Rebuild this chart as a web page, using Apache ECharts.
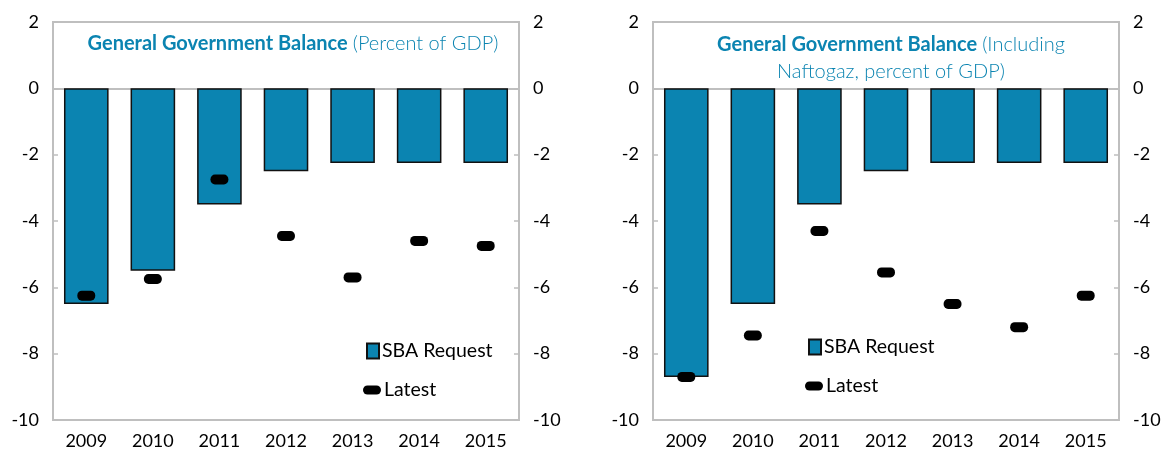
<!DOCTYPE html>
<html>
<head>
<meta charset="utf-8">
<script src="https://cdn.jsdelivr.net/npm/echarts@6/dist/echarts.min.js"></script>
<style>
  html, body { margin: 0; padding: 0; background: #fff; }
  #chart { width: 1171px; height: 459px; }
</style>
</head>
<body>
<div id="chart"></div>
<script>
const years = ["2009", "2010", "2011", "2012", "2013", "2014", "2015"];
// left panel: general government balance
const sbaLeft = [-6.5, -5.5, -3.5, -2.5, -2.25, -2.25, -2.25];
const latestLeft = [-6.25, -5.75, -2.75, -4.45, -5.7, -4.6, -4.75];
// right panel: including Naftogaz
const sbaRight = [-8.7, -6.5, -3.5, -2.5, -2.25, -2.25, -2.25];
const latestRight = [-8.7, -7.45, -4.3, -5.55, -6.5, -7.2, -6.25];

const blue = "#0b84b1";
const grey = "#bfbfbf";
const font = "Lato";
const pill = "path://M5,0 H15 A5,5 0 0 1 15,10 H5 A5,5 0 0 1 5,0 Z";

const chart = echarts.init(document.getElementById("chart"));

const grids = [
  { left: 53, top: 22, width: 466, height: 398 },
  { left: 653, top: 22, width: 466, height: 398 },
];

function xAxes(g) {
  return [
    {
      type: "category", gridIndex: g, data: years, position: "bottom",
      axisLine: { onZero: false, show: false },
      axisTick: { show: false },
      axisLabel: { fontFamily: font, fontSize: 18, color: "#000", margin: 12 },
    },
    {
      type: "category", gridIndex: g, data: years, position: "bottom",
      axisLine: { onZero: true, lineStyle: { color: grey, width: 2 } },
      axisTick: { inside: true, length: 5, lineStyle: { color: grey, width: 1.5 } },
      axisLabel: { show: false },
    },
  ];
}

function yAxes(g) {
  const base = {
    type: "value", gridIndex: g, min: -10, max: 2, interval: 2,
    splitLine: { show: false },
    axisLine: { show: false },
    axisTick: { show: true, inside: true, length: 5, lineStyle: { color: grey, width: 1.5 } },
    axisLabel: { fontFamily: font, fontSize: 18, color: "#000", margin: 14 },
  };
  return [
    Object.assign({}, base, { position: "left" }),
    Object.assign({}, base, { position: "right" }),
  ];
}

const titleRich = {
  b: { fontFamily: font, fontSize: 20, fontWeight: "bold", color: blue },
  n: { fontFamily: font, fontSize: 20, fontWeight: 300, color: blue },
};

function legend(name, left, top, icon, w, h) {
  return {
    data: [{ name: name, icon: icon, itemStyle: { opacity: 1 } }],
    left: left, top: top, itemWidth: w, itemHeight: h, itemGap: 0,
    selectedMode: false,
    textStyle: { fontFamily: font, fontSize: 19.5, color: "#000", padding: [0, 0, 0, -2] },
  };
}

function series(g, sba, latest) {
  return [
    {
      name: "SBA Request", type: "bar", xAxisIndex: g * 2, yAxisIndex: g * 2,
      data: sba, barWidth: "67%",
      itemStyle: { color: blue, borderColor: "#111", borderWidth: 1.5 },
    },
    {
      name: "Latest", type: "scatter", xAxisIndex: g * 2, yAxisIndex: g * 2,
      data: latest, symbol: pill, symbolSize: [18, 10], z: 5,
      itemStyle: { color: "#000", opacity: 1 },
    },
  ];
}

chart.setOption({
  animation: false,
  grid: grids.map((g) => Object.assign({ show: true, borderColor: grey, borderWidth: 2 }, g)),
  title: [
    {
      text: "{b|General Government Balance} {n|(Percent of GDP)}",
      left: 288, top: 29, textAlign: "center",
      textStyle: { rich: titleRich },
    },
    {
      text: "{b|General Government Balance} {n|(Including}\n{n|Naftogaz, percent of GDP)}",
      left: 886, top: 26, textAlign: "center",
      textStyle: { rich: titleRich, lineHeight: 27 },
    },
  ],
  legend: [
    legend("SBA Request", 361, 336, "rect", 12, 15),
    legend("Latest", 358, 375, pill, 18, 10),
    legend("SBA Request", 803, 332, "rect", 12, 15),
    legend("Latest", 800, 371, pill, 18, 10),
  ],
  xAxis: xAxes(0).concat(xAxes(1)),
  yAxis: yAxes(0).concat(yAxes(1)),
  series: series(0, sbaLeft, latestLeft).concat(series(1, sbaRight, latestRight)),
});
</script>
</body>
</html>
